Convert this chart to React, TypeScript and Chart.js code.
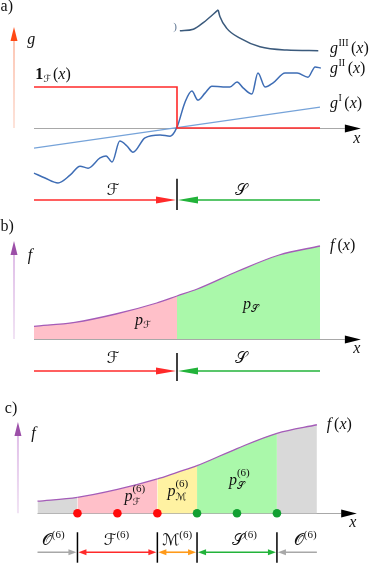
import React, { useEffect, useRef } from "react";
import { Chart, registerables } from "chart.js";
Chart.register(...registerables);

// ---------------- data ----------------
// panel a : indicator function, g^I, g^II, g^III
const indicatorX = [0, 5, 5, 10];
const indicatorG = [1, 1, 0, 0];
const gIX = [0, 10];
const gIG = [-0.49, 0.51];
const gIIX = [0, 0.385, 0.84, 1.26, 1.61, 1.89, 2.31, 2.52, 2.73, 3.0, 3.25, 3.46, 3.88, 4.41, 4.76, 5.0, 5.28, 5.52, 5.73, 5.98, 6.22, 6.61, 6.85, 7.1, 7.31, 7.62, 7.83, 8.08, 8.36, 8.78, 9.2, 9.58, 9.83, 10.03];
const gIIG = [-1.10, -1.22, -1.34, -1.15, -0.93, -0.98, -0.73, -0.68, -0.83, -0.32, -0.44, -0.59, -0.24, -0.17, -0.20, 0.02, 0.63, 0.90, 0.68, 0.85, 1.02, 1.0, 1.0, 1.12, 0.98, 0.83, 1.34, 1.0, 1.10, 1.34, 1.34, 1.24, 1.49, 1.46];
const gIIIRiseX = [5.1, 5.57, 5.92, 6.44];
const gIIIRiseG = [2.37, 2.41, 2.57, 2.88];
const gIIIFallX = [6.44, 6.5, 6.74, 7.2, 7.9, 8.84, 9.94];
const gIIIFallG = [2.88, 2.72, 2.43, 2.19, 1.98, 1.9, 1.885];
// panels b, c : density f(x)
const fX = [0, 1.43, 2.86, 4.29, 5, 5.71, 7.14, 8.57, 10];
const fY = [0.127, 0.167, 0.25, 0.36, 0.43, 0.5, 0.68, 0.84, 0.93];
const splitB = 5;
const nodesX = [1.43, 2.86, 4.29, 5.71, 7.14, 8.57];
const nodesY = [0, 0, 0, 0, 0, 0];
const nodeSide = ["F", "F", "F", "S", "S", "S"];
const cutsC = [1.43, 4.29, 5.71, 8.57];

// ---------------- styles ----------------
const SERIF = '"Liberation Serif", "DejaVu Serif", "DejaVu Sans", serif';
const PINK = "#ffc0c9";
const GREENF = "#aaf8aa";
const YELLOW = "#fff2a2";
const GRAYF = "#d9d9d9";
const RED = "#ff2a2a";
const GREEN = "#22b33a";
const ORANGE = "#ff9a1a";
const GREYA = "#a8a8a8";
const PURPLE = "#a45cb8";
const X_MIN = -34 / 28.6;
const X_MAX = 337 / 28.6;

type Piece = { t?: string; f?: "i" | "n" | "b"; s?: number; dy?: number; dx?: number; stack?: Piece[] };

function fontOf(p: Piece, base: number) {
  const s = p.s ?? base;
  const st = p.f === "i" ? "italic " : p.f === "b" ? "bold " : "";
  return `${st}${s}px ${SERIF}`;
}
function pieceWidth(ctx: CanvasRenderingContext2D, p: Piece, base: number): number {
  if (p.stack) return Math.max(...p.stack.map((q) => pieceWidth(ctx, q, base)));
  ctx.font = fontOf(p, base);
  return ctx.measureText(p.t || "").width + (p.dx ?? 0);
}
function drawPieces(ctx: CanvasRenderingContext2D, x: number, y: number, pieces: Piece[], align = "left", base = 16, color = "#111") {
  ctx.save();
  ctx.fillStyle = color;
  ctx.textBaseline = "alphabetic";
  ctx.textAlign = "left";
  const total = pieces.reduce((a, p) => a + pieceWidth(ctx, p, base), 0);
  let cx = align === "center" ? x - total / 2 : x;
  for (const p of pieces) {
    const w = pieceWidth(ctx, p, base);
    const list = p.stack ? p.stack : [p];
    for (const q of list) {
      ctx.font = fontOf(q, base);
      ctx.fillText(q.t || "", cx, y + (q.dy ?? 0));
    }
    cx += w;
  }
  ctx.restore();
}

function head(ctx: CanvasRenderingContext2D, tx: number, ty: number, ux: number, uy: number, len: number, half: number, color: string) {
  const bx = tx - ux * len, by = ty - uy * len;
  const nx = -uy, ny = ux;
  ctx.beginPath();
  ctx.moveTo(tx, ty);
  ctx.lineTo(bx + nx * half, by + ny * half);
  ctx.lineTo(bx - nx * half, by - ny * half);
  ctx.closePath();
  ctx.fillStyle = color;
  ctx.fill();
}
function arrow(ctx: CanvasRenderingContext2D, x1: number, y1: number, x2: number, y2: number, color: string | CanvasGradient, headColor: string, lw: number, len: number, half: number, both = false) {
  const d = Math.hypot(x2 - x1, y2 - y1);
  const ux = (x2 - x1) / d, uy = (y2 - y1) / d;
  ctx.save();
  ctx.strokeStyle = color as any;
  ctx.lineWidth = lw;
  ctx.beginPath();
  ctx.moveTo(both ? x1 + ux * len * 0.8 : x1, both ? y1 + uy * len * 0.8 : y1);
  ctx.lineTo(x2 - ux * len * 0.8, y2 - uy * len * 0.8);
  ctx.stroke();
  head(ctx, x2, y2, ux, uy, len, half, headColor);
  if (both) head(ctx, x1, y1, -ux, -uy, len, half, headColor);
  ctx.restore();
}
function vline(ctx: CanvasRenderingContext2D, x: number, y1: number, y2: number, color: string, lw: number) {
  ctx.save();
  ctx.strokeStyle = color;
  ctx.lineWidth = lw;
  ctx.beginPath();
  ctx.moveTo(x, y1);
  ctx.lineTo(x, y2);
  ctx.stroke();
  ctx.restore();
}

function pts(xs: number[], ys: number[]) {
  return xs.map((x, i) => ({ x, y: ys[i] }));
}

function baseOptions(yMin: number, yMax: number): any {
  return {
    responsive: false,
    animation: false,
    devicePixelRatio: 1,
    events: [],
    layout: { padding: 0 },
    plugins: { legend: { display: false }, tooltip: { enabled: false }, title: { display: false } },
    scales: {
      x: { type: "linear", display: false, min: X_MIN, max: X_MAX },
      y: { type: "linear", display: false, min: yMin, max: yMax },
    },
    elements: { point: { radius: 0 } },
  };
}

// common drawing of the horizontal x axis with its arrow
function drawAxis(chart: any, axisEnd: number, tipX: number) {
  const { ctx } = chart;
  const X = (v: number) => chart.scales.x.getPixelForValue(v);
  const Y = (v: number) => chart.scales.y.getPixelForValue(v);
  const y0 = Math.round(Y(0)) + 0.5;
  ctx.save();
  ctx.strokeStyle = GREYA;
  ctx.lineWidth = 1;
  ctx.beginPath();
  ctx.moveTo(X(0), y0);
  ctx.lineTo(X(axisEnd), y0);
  ctx.stroke();
  ctx.restore();
  head(ctx, X(tipX), y0, 1, 0, X(tipX) - X(axisEnd), 4, "#000");
}
function drawVArrow(chart: any, xv: number, top: number, light: string, mid: string, dark: string) {
  const { ctx } = chart;
  const X = (v: number) => chart.scales.x.getPixelForValue(v);
  const Y = (v: number) => chart.scales.y.getPixelForValue(v);
  const g = ctx.createLinearGradient(0, Y(0), 0, Y(top));
  g.addColorStop(0, light);
  g.addColorStop(1, mid);
  arrow(ctx, X(xv), Y(0), X(xv), Y(top), g, dark, 2, 14, 3.5);
}

function makeA(): any {
  const opts = baseOptions(-(212 - 128) / 41, 128 / 41);
  return {
    type: "line",
    data: {
      datasets: [
        { data: pts(gIX, gIG), borderColor: "#76a3d9", borderWidth: 1.3, pointRadius: 0, order: 4 },
        { data: pts(gIIX, gIIG), borderColor: "#3e6db5", borderWidth: 1.5, pointRadius: 0, cubicInterpolationMode: "monotone", order: 3 },
        { data: pts(indicatorX, indicatorG), borderColor: RED, borderWidth: 1.6, pointRadius: 0, order: 2 },
        { data: pts(gIIIRiseX, gIIIRiseG), borderColor: "#3b5a7c", borderWidth: 1.5, pointRadius: 0, cubicInterpolationMode: "monotone", order: 1 },
        { data: pts(gIIIFallX, gIIIFallG), borderColor: "#3b5a7c", borderWidth: 1.5, pointRadius: 0, cubicInterpolationMode: "monotone", order: 1 },
      ],
    },
    options: opts,
    plugins: [
      {
        id: "decoA",
        beforeDatasetsDraw(chart: any) {
          drawAxis(chart, 10.87, 11.43);
        },
        afterDatasetsDraw(chart: any) {
          const { ctx } = chart;
          const X = (v: number) => chart.scales.x.getPixelForValue(v);
          const Y = (v: number) => chart.scales.y.getPixelForValue(v);
          drawVArrow(chart, -0.7, 2.463, "#fde3da", "#fcc3b0", "#ff4a16");
          drawPieces(ctx, X(-1.17), Y(2.854), [{ t: "a)" }]);
          drawPieces(ctx, X(-0.24), Y(2.049), [{ t: "g", f: "i" }]);
          drawPieces(ctx, X(0.04), Y(1.195), [{ t: "1", f: "b" }, { t: "ℱ", s: 10, dy: 3, dx: 2 }, { t: "(" }, { t: "x", f: "i" }, { t: ")" }]);
          const gl = (sup: string): Piece[] => [{ t: "g", f: "i", dx: 0.5 }, { t: sup, s: 10, dy: -7, dx: 2.5 }, { t: "(" }, { t: "x", f: "i" }, { t: ")" }];
          drawPieces(ctx, X(10.35), Y(1.829), gl("III"));
          drawPieces(ctx, X(10.35), Y(1.341), gl("II"));
          drawPieces(ctx, X(10.35), Y(0.488), gl("I"));
          drawPieces(ctx, X(11.29), Y(-0.366), [{ t: "x", f: "i" }], "center");
          drawPieces(ctx, X(4.93), Y(2.40), [{ t: ")", s: 11 }], "center", 11, "#5d7592");
          // F / S arrows
          const ya = Y(-1.756);
          arrow(ctx, X(0), ya, X(5) - 1, ya, RED, RED, 1.6, 20, 3.5);
          arrow(ctx, X(10), ya, X(5) + 1, ya, GREEN, GREEN, 1.6, 20, 3.5);
          vline(ctx, X(5), Y(-1.24), Y(-2.0), "#000", 1.5);
          drawPieces(ctx, X(2.76), Y(-1.634), [{ t: "ℱ" }], "center");
          drawPieces(ctx, X(7.24), Y(-1.634), [{ t: "𝒮" }], "center");
        },
      },
    ],
  };
}

function fDataset(colorAt: (x: number) => string): any {
  return {
    data: pts(fX, fY),
    borderColor: PURPLE,
    borderWidth: 1.3,
    pointRadius: 0,
    cubicInterpolationMode: "monotone",
    fill: "origin",
    backgroundColor: colorAt(0),
    order: 2,
    segment: { backgroundColor: (ctx: any) => colorAt(fX[ctx.p0DataIndex]) },
  };
}

function makeB(): any {
  const opts = baseOptions(-0.51, 1.27);
  return {
    type: "line",
    data: { datasets: [fDataset((x) => (x < splitB ? PINK : GREENF))] },
    options: opts,
    plugins: [
      {
        id: "decoB",
        beforeDatasetsDraw(chart: any) {
          drawAxis(chart, 10.87, 11.43);
        },
        afterDatasetsDraw(chart: any) {
          const { ctx } = chart;
          const X = (v: number) => chart.scales.x.getPixelForValue(v);
          const Y = (v: number) => chart.scales.y.getPixelForValue(v);
          drawVArrow(chart, -0.7, 0.98, "#f1e3f4", "#ddb9e6", "#9c4fa8");
          drawPieces(ctx, X(-1.17), Y(1.08), [{ t: "b)" }]);
          drawPieces(ctx, X(-0.22), Y(0.79), [{ t: "f", f: "i" }]);
          drawPieces(ctx, X(10.35), Y(0.89), [{ t: "f", f: "i", dx: 3 }, { t: "(" }, { t: "x", f: "i" }, { t: ")" }]);
          drawPieces(ctx, X(11.29), Y(-0.14), [{ t: "x", f: "i" }], "center");
          drawPieces(ctx, X(3.53), Y(0.14), [{ t: "p", f: "i" }, { t: "ℱ", s: 10, dy: 3 }]);
          drawPieces(ctx, X(7.31), Y(0.3), [{ t: "p", f: "i" }, { t: "𝒮", s: 10, dy: 3 }]);
          const ya = Y(-0.32);
          arrow(ctx, X(0), ya, X(5) - 1, ya, RED, RED, 1.6, 20, 3.5);
          arrow(ctx, X(10), ya, X(5) + 1, ya, GREEN, GREEN, 1.6, 20, 3.5);
          vline(ctx, X(5), Y(-0.14), Y(-0.42), "#000", 1.5);
          drawPieces(ctx, X(2.76), Y(-0.24), [{ t: "ℱ" }], "center");
          drawPieces(ctx, X(7.24), Y(-0.24), [{ t: "𝒮" }], "center");
        },
      },
    ],
  };
}

function makeC(): any {
  const opts = baseOptions(-0.52, 1.25);
  const colorAt = (x: number) => (x < cutsC[0] ? GRAYF : x < cutsC[1] ? PINK : x < cutsC[2] ? YELLOW : x < cutsC[3] ? GREENF : GRAYF);
  return {
    type: "line",
    data: {
      datasets: [
        fDataset(colorAt),
        {
          data: pts(nodesX, nodesY),
          showLine: false,
          order: 0,
          pointRadius: 4.3,
          pointBorderWidth: 0,
          pointBackgroundColor: nodeSide.map((s) => (s === "F" ? "#ff0a0a" : "#12a032")),
        },
      ],
    },
    options: opts,
    plugins: [
      {
        id: "decoC",
        beforeDatasetsDraw(chart: any) {
          drawAxis(chart, 10.87, 11.43);
        },
        afterDatasetsDraw(chart: any) {
          const { ctx } = chart;
          const X = (v: number) => chart.scales.x.getPixelForValue(v);
          const Y = (v: number) => chart.scales.y.getPixelForValue(v);
          drawVArrow(chart, -0.7, 0.96, "#f1e3f4", "#ddb9e6", "#9c4fa8");
          drawPieces(ctx, X(-1.17), Y(1.05), [{ t: "c)" }]);
          drawPieces(ctx, X(-0.22), Y(0.79), [{ t: "f", f: "i" }]);
          drawPieces(ctx, X(10.35), Y(0.89), [{ t: "f", f: "i", dx: 3 }, { t: "(" }, { t: "x", f: "i" }, { t: ")" }]);
          drawPieces(ctx, X(11.29), Y(-0.15), [{ t: "x", f: "i" }], "center");
          const sixLabel = (sub: string): Piece[] => [{ t: "p", f: "i" }, { stack: [{ t: "(6)", s: 11, dy: -9 }, { t: sub, s: 10, dy: 4 }] }];
          drawPieces(ctx, X(3.11), Y(0.13), sixLabel("ℱ"));
          drawPieces(ctx, X(4.65), Y(0.18), sixLabel("ℳ"));
          drawPieces(ctx, X(6.85), Y(0.3), sixLabel("𝒮"));
          const ya = Y(-0.41);
          arrow(ctx, X(0), ya, X(cutsC[0]) - 1, ya, GREYA, GREYA, 1.6, 8, 3);
          arrow(ctx, X(cutsC[0]) + 1, ya, X(cutsC[1]) - 1, ya, RED, RED, 1.6, 8, 3, true);
          arrow(ctx, X(cutsC[1]) + 1, ya, X(cutsC[2]) - 1, ya, ORANGE, ORANGE, 1.6, 8, 3, true);
          arrow(ctx, X(cutsC[2]) + 1, ya, X(cutsC[3]) - 1, ya, GREEN, GREEN, 1.6, 8, 3, true);
          arrow(ctx, X(10), ya, X(cutsC[3]) + 1, ya, GREYA, GREYA, 1.6, 8, 3);
          for (const c of cutsC) vline(ctx, X(c), Y(-0.2), Y(-0.52), "#000", 1.5);
          const six = (s: string): Piece[] => [{ t: s }, { t: "(6)", s: 11, dy: -7 }];
          const ly = Y(-0.33);
          drawPieces(ctx, X(0.56), ly, six("𝒪"), "center");
          drawPieces(ctx, X(2.83), ly, six("ℱ"), "center");
          drawPieces(ctx, X(5.0), ly, six("ℳ"), "center");
          drawPieces(ctx, X(7.41), ly, six("𝒮"), "center");
          drawPieces(ctx, X(9.58), ly, six("𝒪"), "center");
        },
      },
    ],
  };
}

function ChartPanel({ height, make }: { height: number; make: () => any }) {
  const ref = useRef<HTMLCanvasElement>(null);
  useEffect(() => {
    const chart = new Chart(ref.current as HTMLCanvasElement, make());
    return () => chart.destroy();
  }, []);
  return <canvas ref={ref} width={371} height={height} style={{ display: "block", width: 371, height }} />;
}

export default function App() {
  useEffect(() => {
    document.body.style.margin = "0";
  }, []);
  return (
    <div style={{ position: "absolute", left: 0, top: 0, width: 371, background: "#fff" }}>
      <ChartPanel height={212} make={makeA} />
      <ChartPanel height={178} make={makeB} />
      <ChartPanel height={177} make={makeC} />
    </div>
  );
}
